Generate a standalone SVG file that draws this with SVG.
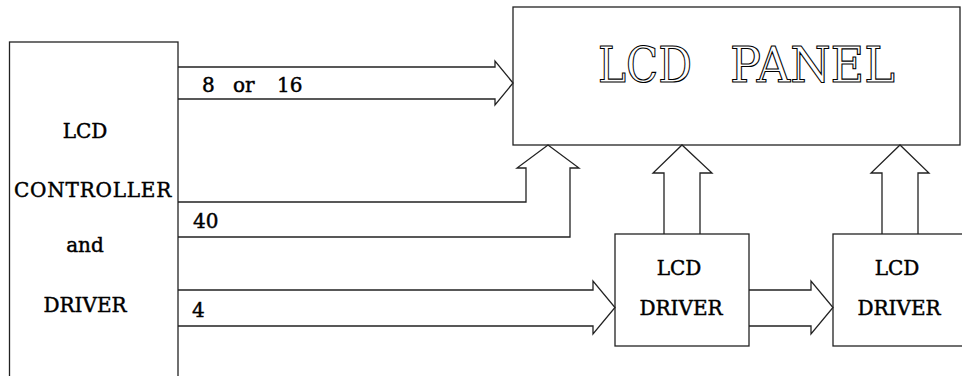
<svg xmlns="http://www.w3.org/2000/svg" width="962" height="376" viewBox="0 0 962 376">
<style>
.box{fill:#fff;stroke:#222;stroke-width:1.3}
.bus{fill:none;stroke:#222;stroke-width:1.3;stroke-linejoin:miter}
.t{font-family:"DejaVu Serif","Liberation Serif",serif;font-size:20px;fill:#000;stroke:#000;stroke-width:0.45;text-anchor:middle}
.lbl{font-family:"DejaVu Serif","Liberation Serif",serif;font-size:20px;fill:#000;stroke:#000;stroke-width:0.45}
.big{font-family:"DejaVu Serif","Liberation Serif",serif;font-size:48px;fill:#fff;stroke:#000;stroke-width:1.1}
</style>
<rect width="962" height="376" fill="#fff"/>
<g id="controller">
<rect class="box" x="9.5" y="42" width="168.5" height="360"/>
<text class="t" x="85" y="138">LCD</text>
<text class="t" x="93" y="197" letter-spacing="0.8">CONTROLLER</text>
<text class="t" x="85" y="252">and</text>
<text class="t" x="85" y="312">DRIVER</text>
</g>
<g id="panel">
<rect class="box" x="513" y="7" width="447" height="138"/>
<text class="big" x="598" y="82" textLength="94" lengthAdjust="spacingAndGlyphs">LCD</text>
<text class="big" x="730" y="82" textLength="165" lengthAdjust="spacingAndGlyphs">PANEL</text>
</g>
<g id="driver1">
<rect class="box" x="615" y="234" width="134" height="112"/>
<text class="t" x="679" y="275">LCD</text>
<text class="t" x="681" y="315">DRIVER</text>
</g>
<g id="driver2">
<rect class="box" x="833" y="234" width="140" height="112"/>
<text class="t" x="897" y="275">LCD</text>
<text class="t" x="899" y="315">DRIVER</text>
</g>
<g id="connectors">
<path class="bus" d="M178,67 H495 V61 L513,83 L495,105 V99 H178"/>
<path class="bus" d="M178,202 H526 V168 H517 L548,145 L579,168 H570 V237 H178"/>
<path class="bus" d="M178,290 H593 V281 L615,307.5 L593,334 V326 H178"/>
<path class="bus" d="M664,234 V173 H653 L682,145 L712,173 H700 V234"/>
<path class="bus" d="M749,290 H811 V281 L833,307.5 L811,334 V326 H749"/>
<path class="bus" d="M882,234 V173 H871 L900,145 L929,173 H918 V234"/>
<text class="lbl" y="92"><tspan x="202">8</tspan><tspan x="233">or</tspan><tspan x="277">16</tspan></text>
<text class="lbl" x="193" y="228">40</text>
<text class="lbl" x="192" y="317">4</text>
</g>
</svg>
